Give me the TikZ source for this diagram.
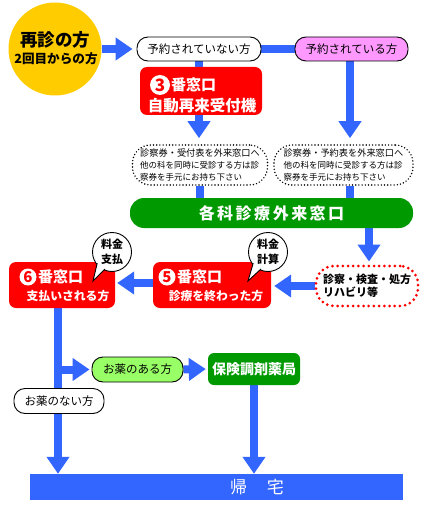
\documentclass[tikz,border=0pt]{standalone}
\usepackage{fontspec}
\newfontfamily\jp{Noto Sans CJK JP}
\usetikzlibrary{arrows.meta,calc,backgrounds}
\definecolor{fblue}{RGB}{51,102,255}
\definecolor{cyellow}{RGB}{255,204,0}
\definecolor{cpink}{RGB}{255,153,255}
\definecolor{cred}{RGB}{255,0,0}
\definecolor{cgreen}{RGB}{0,153,0}
\definecolor{clgreen}{RGB}{153,255,102}
\newcommand\fsz[2]{\fontsize{#1}{#2}\selectfont}
\begin{document}
\begin{tikzpicture}[x=1pt,y=-1pt,
  every node/.style={inner sep=0pt, font=\jp},
  flow/.style={line width=8pt, draw=fblue, -{Triangle[width=22pt,length=17pt]}},
  bline/.style={line width=8pt, draw=fblue},
  pill/.style={draw=black, line width=0.9pt, rounded corners=11pt, fill=white, minimum height=24pt, font=\jp\fsz{11.5pt}{13pt}},
  redbox/.style={fill=cred, rounded corners=7pt},
  numc/.style={circle, fill=white, text=cred, minimum size=17pt, font=\jp\bfseries\fsz{15pt}{15pt}},
  wtext/.style={text=white, font=\jp\bfseries\fsz{15pt}{16pt}},
  wsmall/.style={text=white, font=\jp\bfseries\fsz{11.8pt}{13pt}},
  dotbox/.style={draw=black, line width=1.6pt, line cap=round, dash pattern=on 0pt off 3.2pt, rounded corners=18pt, fill=white, align=left},
  bubble/.style={circle, draw=black, line width=0.9pt, fill=white, minimum size=39pt, align=center, font=\jp\bfseries\fsz{11pt}{15pt}},
  tailfill/.style={fill=white},
  tailline/.style={draw=black, line width=0.9pt, line join=miter}
]
\useasboundingbox (0,0) rectangle (432,505);

% start circle
\node[circle, fill=cyellow, minimum size=93pt] (start) at (55,49) {};
\node[font=\jp\bfseries\fsz{17.5pt}{18pt}] (startA) at (55,40) {再診の方};
\node[font=\jp\bfseries\fsz{12.6pt}{13pt}] (startB) at (56,59) {2回目からの方};

% reservation pills
\node[pill, minimum width=124pt] (yno) at (199,49) {予約されていない方};
\node[pill, fill=cpink, minimum width=113pt] (yyes) at (351.5,49) {予約されている方};

% window 3
\node[redbox, minimum width=122pt, minimum height=48pt] (w3) at (201,91) {};
\node[numc, minimum size=20pt, font=\jp\bfseries\fsz{17pt}{17pt}] (w3n) at (160,85) {3};
\node[wtext, anchor=west] (w3a) at (171,85) {番窓口};
\node[wtext, font=\jp\bfseries\fsz{15.5pt}{16pt}] (w3b) at (202,106) {自動再来受付機};

% dotted notes
\node[dotbox, minimum width=135pt, minimum height=40pt] (d1) at (200,165)
  {\fsz{9.2pt}{10pt}診察券・受付表を外来窓口へ\\[0pt]\fsz{8.5pt}{10pt}他の科を同時に受診する方は診\\\fsz{8.5pt}{10pt}察券を手元にお持ち下さい};
\node[dotbox, minimum width=139pt, minimum height=40pt] (d2) at (343.5,165)
  {\fsz{9.2pt}{10pt}診察券・予約表を外来窓口へ\\[0pt]\fsz{8.5pt}{10pt}他の科を同時に受診する方は診\\\fsz{8.5pt}{10pt}察券を手元にお持ち下さい};

% green bar
\node[fill=cgreen, rounded corners=14pt, minimum width=283pt, minimum height=30pt,
  text=white, font=\jp\bfseries\fsz{16pt}{16pt}] (g) at (271.5,213)
  {各\hspace{2.5pt}科\hspace{2.5pt}診\hspace{2.5pt}療\hspace{2.5pt}外\hspace{2.5pt}来\hspace{2.5pt}窓\hspace{2.5pt}口};

% exam box
\node[draw=cred, line width=3pt, line cap=round, dash pattern=on 0pt off 5.2pt,
  rounded corners=18pt, fill=white, minimum width=102pt, minimum height=40pt,
  align=left, font=\jp\bfseries\fsz{11pt}{12.5pt}] (r) at (367,286)
  {診察・検査・処方\\リハビリ等};

% window 5
\node[redbox, minimum width=118pt, minimum height=46pt] (w5) at (212,285) {};
\node[numc] (w5n) at (167,277) {5};
\node[wtext, anchor=west] (w5a) at (177,277) {番窓口};
\node[wsmall] (w5b) at (216,296) {診療を終わった方};

% window 6
\node[redbox, minimum width=106pt, minimum height=46pt] (w6) at (62,285) {};
\node[numc] (w6n) at (28,277) {6};
\node[wtext, anchor=west] (w6a) at (38,277) {番窓口};
\node[wsmall] (w6b) at (68,296) {支払いされる方};

% bubbles
\node[bubble] (b5) at (268,252) {料金\\計算};
\coordinate (b5t) at (248,281);
\fill[tailfill] ($(b5)+(-14.5,11)$) -- (b5t) -- ($(b5)+(-7,16.5)$) -- cycle;
\draw[tailline] ($(b5)+(-14.8,11.2)$) -- (b5t) -- ($(b5)+(-7,17)$);
\node[bubble] (b6) at (112,252) {料金\\支払};
\coordinate (b6t) at (93,281);
\fill[tailfill] ($(b6)+(-14.5,11)$) -- (b6t) -- ($(b6)+(-7,16.5)$) -- cycle;
\draw[tailline] ($(b6)+(-14.8,11.2)$) -- (b6t) -- ($(b6)+(-7,17)$);

% medicine
\node[pill, minimum width=90pt, minimum height=25pt] (nm) at (59,401) {お薬のない方};
\node[pill, fill=clgreen, minimum width=91pt, minimum height=25pt] (ym) at (137.5,369.5) {お薬のある方};
\node[fill=cgreen, rounded corners=6pt, minimum width=92pt, minimum height=32pt,
  text=white, font=\jp\bfseries\fsz{14pt}{14pt}] (ph) at (254,369) {保険調剤薬局};

% home bar
\node[fill=fblue, minimum width=373pt, minimum height=26pt] (home) at (216.5,487) {};
\node[text=white, font=\jp\fsz{17pt}{17pt}] (homet) at (257,487) {帰\hspace{20pt}宅};

\begin{scope}[on background layer]
\draw[flow, shorten >=4pt] (start.east |- yno.west) -- (yno.west);
\draw[bline] (yno.east) -- (yyes.west);
\draw[bline] (yno.south) -- (yno.south |- w3.north);
\draw[flow, shorten >=6pt] (w3.south -| yno.south) -- (yno.south |- d1.north);
\draw[flow, shorten >=6pt] (yyes.south -| 350,0) -- (350,0 |- d2.north);
\draw[bline] (d1.south) -- (d1.south |- g.north);
\draw[bline] (350,0 |- d2.south) -- (350,0 |- g.north);
\draw[flow, shorten >=3pt] (g.south -| 369,0) -- (369,0 |- r.north);
\draw[flow, shorten >=3pt] (r.west) -- (r.west -| w5.east);
\draw[flow, shorten >=2pt] (w5.west |- 0,283) -- (w6.east |- 0,283);
\draw[flow] (58,0 |- w6.south) -- (58,0 |- home.north);
\draw[flow, shorten >=2pt] (58,0 |- ym.west) -- (ym.west);
\draw[flow, shorten >=2pt] (ym.east) -- (ph.west);
\draw[flow] (ph.south) -- (ph.south |- home.north);
\end{scope}
\end{tikzpicture}
\end{document}
